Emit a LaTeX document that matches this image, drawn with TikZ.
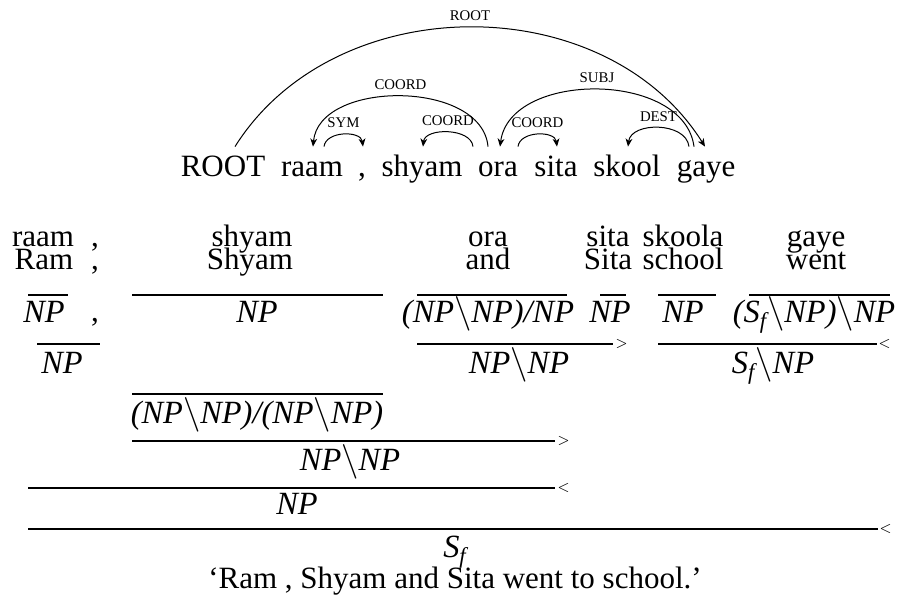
\documentclass[tikz,border=0pt]{standalone}
\usepackage{amsmath}
\usepackage{fontspec}
\setmainfont{Liberation Serif}
\usetikzlibrary{calc,arrows.meta}

% categories: italic text with the long math backslash
\newcommand{\cbs}{$\backslash$}
\newcommand{\Sf}{S$_{\textit{f}}$}

\begin{document}
\begin{tikzpicture}[x=0.5pt,y=-0.5pt,
  word/.style={font=\fontsize{15.5}{18}\selectfont, inner sep=0pt, anchor=base},
  dword/.style={word, text height=15pt, text depth=4pt},
  cat/.style={word, font=\fontsize{16.2}{19}\selectfont\itshape},
  lbl/.style={font=\fontsize{7.4}{9}\selectfont, inner sep=0pt},
  dep/.style={line width=0.5pt, -{Stealth[length=4pt,width=3.4pt,inset=1.2pt]}},
  rulebar/.style={line width=0.55pt},
  ruletag/.style={font=\fontsize{7.4}{9}\selectfont, inner sep=0pt, anchor=west}
]
\useasboundingbox (0,0) rectangle (899,597);

% ---------- dependency tree ----------
\node[dword] (w0) at (223,177) {ROOT};
\node[dword] (w1) at (312,177) {raam};
\node[dword] (w2) at (362,177) {,};
\node[dword] (w3) at (422,177) {shyam};
\node[dword] (w4) at (498,177) {ora};
\node[dword] (w5) at (556,177) {sita};
\node[dword] (w6) at (627,177) {skool};
\node[dword] (w7) at (706,177) {gaye};

\draw[dep] ($(w0.north)+(12,0)$) .. controls +(100,-159) and +(-100,-159) .. ($(w7.north)+(-1,0)$)
  node[lbl, midway, above=3pt] (lroot) {ROOT};
\draw[dep] ($(w4.north)+(-10,0)$) .. controls +(-6,-67) and +(6,-67) .. ($(w1.north)+(1,0)$)
  node[lbl, midway, above=3pt] (lcoorda) {COORD};
\draw[dep] ($(w1.north)+(12,0)$) .. controls +(2,-16) and +(-2,-16) .. ($(w2.north)+(1,0)$)
  node[lbl, midway, above=3pt] (lsym) {SYM};
\draw[dep] ($(w4.north)+(-25,0)$) .. controls +(-2,-19) and +(2,-19) .. ($(w3.north)+(1,0)$)
  node[lbl, midway, above=3pt] (lcoordb) {COORD};
\draw[dep] ($(w7.north)+(-12,0)$) .. controls +(-10,-76) and +(10,-76) .. ($(w4.north)+(2,0)$)
  node[lbl, midway, above=3pt] (lsubj) {SUBJ};
\draw[dep] ($(w4.north)+(20,0)$) .. controls +(2,-16) and +(-2,-16) .. ($(w5.north)+(1,0)$)
  node[lbl, midway, above=3pt] (lcoordc) {COORD};
\draw[dep] ($(w7.north)+(-17,0)$) .. controls +(-3,-25) and +(3,-25) .. ($(w6.north)+(1,0)$)
  node[lbl, midway, above=3pt] (ldest) {DEST};

% ---------- CCG derivation ----------
% words
\node[word] (a1) at (43,247) {raam};
\node[word] (a2) at (95,247) {,};
\node[word] (a3) at (252,247) {shyam};
\node[word] (a4) at (488,247) {ora};
\node[word] (a5) at (608,247) {sita};
\node[word] (a6) at (683,247) {skoola};
\node[word] (a7) at (816,247) {gaye};
% glosses
\node[word] (g1) at (44,270) {Ram};
\node[word] (g2) at (95,270) {,};
\node[word] (g3) at (250,270) {Shyam};
\node[word] (g4) at (488,270) {and};
\node[word] (g5) at (608,270) {Sita};
\node[word] (g6) at (683,270) {school};
\node[word] (g7) at (816,270) {went};

% lexical categories
\draw[rulebar] (28,295) -- (68,295);
\draw[rulebar] (132,295) -- (383,295);
\draw[rulebar] (417,295) -- (567,295);
\draw[rulebar] (600,295) -- (626,295);
\draw[rulebar] (658,295) -- (716,295);
\draw[rulebar] (749,295) -- (890,295);
\node[cat] (l1) at (44,323) {NP};
\node[word] (l2) at (95,322) {,};
\node[cat] (l3) at (257,323) {NP};
\node[cat] (l4) at (488,323) {(NP\cbs NP)/NP};
\node[cat] (l5) at (610,323) {NP};
\node[cat] (l6) at (683,323) {NP};
\node[cat] (l7) at (814,323) {(\Sf\cbs NP)\cbs NP};

% first combinations
\draw[rulebar] (37,344) -- (100,344);
\node[cat] (m1) at (62,374) {NP};
\draw[rulebar] (417,344) -- (613,344);
\node[ruletag] (t1) at (615,344) {$>$};
\node[cat] (m2) at (519,374) {NP\cbs NP};
\draw[rulebar] (658,344) -- (877,344);
\node[ruletag] (t2) at (878,344) {$<$};
\node[cat] (m3) at (773,374) {\Sf\cbs NP};

% conjunction category
\draw[rulebar] (132,394) -- (383,394);
\node[cat] (n1) at (257,424) {(NP\cbs NP)/(NP\cbs NP)};

\draw[rulebar] (132,441) -- (555,441);
\node[ruletag] (t3) at (557,441) {$>$};
\node[cat] (n2) at (350,471) {NP\cbs NP};

\draw[rulebar] (28,488) -- (555,488);
\node[ruletag] (t4) at (557,488) {$<$};
\node[cat] (n3) at (297,515) {NP};

\draw[rulebar] (28,529) -- (878,529);
\node[ruletag] (t5) at (879,529) {$<$};
\node[cat] (n4) at (455,558) {\Sf};

\node[word] (tr) at (455,589) {`Ram , Shyam and Sita went to school.'};
\end{tikzpicture}
\end{document}
